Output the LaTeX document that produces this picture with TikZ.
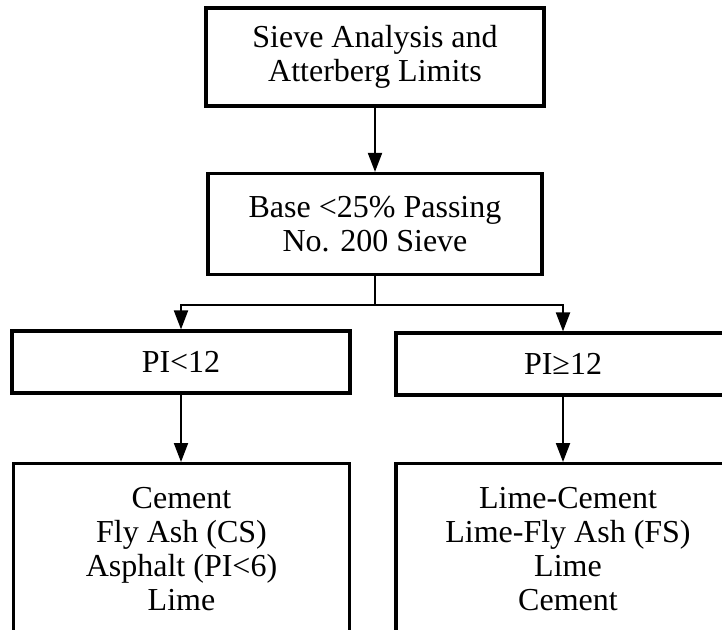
\documentclass[tikz,border=0pt]{standalone}
\usepackage{fontspec}
\setmainfont{Liberation Serif}
\usepackage{tikz}
\usetikzlibrary{arrows.meta,positioning}

\begin{document}
\begin{tikzpicture}[x=1pt,y=-1pt,
  box/.style={draw,line width=3.2pt,align=center,inner sep=0pt,
    font=\fontsize{32}{34}\selectfont},
  list box/.style={box,anchor=north,inner xsep=4pt,inner ysep=24pt,text depth=20pt},
  link/.style={line width=2pt,-{Triangle[length=19pt,width=14pt]}}]

  \useasboundingbox (0,0) rectangle (722,629);

  \node[box,minimum width=338,minimum height=98] (sieve) at (375,57)
    {Sieve Analysis and\\Atterberg Limits};

  \node[box,minimum width=334,minimum height=101] (base) at (375,224)
    {Base <25\% Passing\\No. 200 Sieve};

  \node[box,minimum width=338,minimum height=62] (pilow) at (181,362) {PI<12};
  \node[box,minimum width=334,minimum height=62] (pihigh) at (563,364) {PI≥12};

  \node[list box,minimum width=336] (low) at (181.5,462)
    {Cement\\Fly Ash (CS)\\Asphalt (PI<6)\\Lime};
  \node[list box,minimum width=344] (high) at (568,462)
    {Lime-Cement\\Lime-Fly Ash (FS)\\Lime\\Cement};

  \coordinate (split) at (375,305);

  \draw[link] (sieve) -- (base);
  \draw[line width=2pt] (base.south) -- (split);
  \draw[link] (split) -| (pilow.north);
  \draw[link] (split) -| (pihigh.north);
  \draw[link] (pilow) -- (pilow.south |- low.north);
  \draw[link] (pihigh) -- (pihigh.south |- high.north);

\end{tikzpicture}
\end{document}
